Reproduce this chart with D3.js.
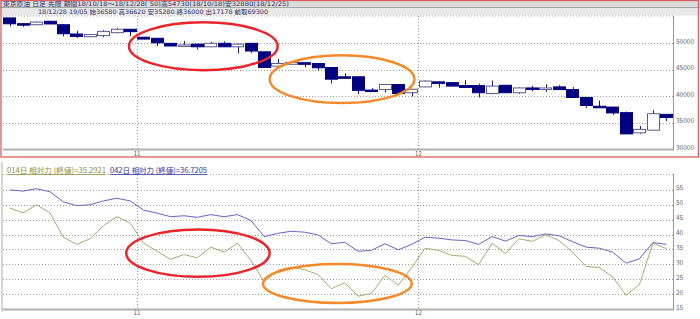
<!DOCTYPE html>
<html>
<head>
<meta charset="utf-8">
<script src="https://cdn.jsdelivr.net/npm/d3@7"></script>
<style>
  body { margin: 0; background: #fff; }
  svg { display: block; }
  text { font-family: "Noto Sans CJK JP", "DejaVu Sans", sans-serif; }
  .head { font-family: "DejaVu Sans", "Noto Sans CJK JP", sans-serif; }
</style>
</head>
<body>
<svg id="chart"></svg>
<script>
// 日付（営業日）
const dates = [
  '10/18','10/19','10/22','10/23','10/24','10/25','10/26','10/29','10/30','10/31',
  '11/01','11/02','11/05','11/06','11/07','11/08','11/09','11/12','11/13','11/14',
  '11/15','11/16','11/19','11/20','11/21','11/22','11/26','11/27','11/28','11/29',
  '11/30','12/03','12/04','12/05','12/06','12/07','12/10','12/11','12/12','12/13',
  '12/14','12/17','12/18','12/19','12/20','12/21','12/25','12/26','12/27','12/28'
];

// 四本値
const open = [
  54730,53650,53450,54100,53450,51700,51200,51400,51950,52600,
  51100,50900,49950,49550,49800,49300,49950,49300,49950,48350,
  45650,46000,46300,46150,45400,43650,43650,41150,41250,42200,
  40650,41750,42700,42550,42000,42000,40500,42050,40650,41550,
  41250,41750,41250,39750,38100,37950,36900,33100,33600,36580
];
const high = [
  54730,53700,54050,54150,53500,52300,51700,52400,52800,52650,
  51150,50950,50000,50400,49850,50250,50300,49900,50000,48400,
  47000,46450,46350,46200,45450,44300,43700,41550,42300,42250,
  41400,42950,42750,42600,43000,42350,42950,42100,41650,41950,
  42250,42050,41700,39800,39200,38000,37100,34400,37350,36620
];
const low = [
  53150,53050,53400,53550,51250,50950,51100,51100,51850,51300,
  50700,49450,49400,49500,48800,49250,49250,48050,48100,45300,
  45600,45950,45450,44850,42400,43250,40400,40850,40700,40400,
  39950,41700,41600,41850,41600,39750,40350,40600,40450,40900,
  40850,41200,39700,37750,37900,36500,32880,32950,33550,35280
];
const close = [
  53630,53550,53950,53600,51750,51250,51600,52200,52600,52150,
  50750,50050,49450,49650,49300,49950,49300,49800,48500,45400,
  46150,46350,46000,45350,43200,43400,41100,41000,42200,40500,
  41300,42850,42400,41900,41650,40650,41900,40650,41550,41300,
  41550,41250,39750,38250,37950,36850,32900,33750,36700,36000
];

// 相対力指数
const rsi14 = [
  48.9,47.3,50.0,47.3,39.1,36.7,38.6,43.0,46.0,43.8,
  37.1,34.4,31.7,33.3,32.2,35.8,34.1,37.1,31.3,24.1,
  28.0,29.1,28.2,26.6,21.8,23.8,19.3,20.2,26.3,23.0,
  28.9,35.4,34.7,33.0,32.7,29.9,37.1,33.6,38.6,37.7,
  39.9,38.0,34.1,29.3,28.9,25.8,19.6,23.3,37.1,35.29
];
const rsi42 = [
  55.0,54.6,55.4,54.4,51.0,49.7,50.0,51.3,52.2,51.3,
  48.2,47.2,46.0,46.3,45.8,46.7,46.0,46.7,44.7,39.3,
  40.4,41.1,40.8,39.9,36.9,37.4,34.4,34.7,36.9,34.9,
  36.7,39.1,38.8,38.2,38.0,36.7,39.3,37.8,39.7,39.3,
  40.2,39.6,37.6,35.8,35.4,34.1,30.4,31.9,37.3,36.72
];

const priceTicks = [30000, 35000, 40000, 45000, 50000];
const rsiTicks = [15, 20, 25, 30, 35, 40, 45, 50, 55];
const monthTicks = [{ date: '11/01', label: '11' }, { date: '12/03', label: '12' }];

const titleText = '東京原油 日足 先限 期間18/10/18～18/12/28( 50)高54730(18/10/18)安32880(18/12/25)';
const infoText = '18/12/28 19/05 始36580 高36620 安35280 終36000 出17178 前取69300';
const legend14 = '014日 相対力 (終値)=35.2921';
const legend42 = '042日 相対力 (終値)=36.7205';

// 注釈の楕円（日付インデックスと値で指定）
const topMarks = [
  { i0: 9.4, i1: 20.5, v0: 53900, v1: 44900, color: '#e8262a' },
  { i0: 19.9, i1: 30.7, v0: 47700, v1: 38700, color: '#f58a2a' }
];
const bottomMarks = [
  { i0: 9.2, i1: 19.9, v0: 41.7, v1: 25.8, color: '#e8262a' },
  { i0: 19.4, i1: 30.5, v0: 30.1, v1: 17.0, color: '#f58a2a' }
];

const W = 700, H = 319;
const left = 3, right = 673;

const svg = d3.select('#chart').attr('width', W).attr('height', H);

const x = d3.scaleBand().domain(dates).range([left, right]).paddingInner(0.06).paddingOuter(0.03);
const xi = d3.scaleLinear().domain([0, dates.length]).range([left, right]);
const slotStart = d => xi(dates.indexOf(d));

const yTop = d3.scaleLinear().domain([30000, 55000]).range([149.3, 16.5]);
const yBot = d3.scaleLinear().domain([15, 60]).range([309, 175]);

//
// ヘッダー
//
svg.append('rect').attr('x', 0).attr('y', 0).attr('width', W).attr('height', 7.5).attr('fill', '#dcdcdc');
svg.append('line').attr('x1', 0).attr('x2', W).attr('y1', 7.5).attr('y2', 7.5).attr('stroke', '#a8a8a8');
svg.append('rect').attr('x', 0).attr('y', 8).attr('width', W).attr('height', 7.5).attr('fill', '#e8e8e8');
svg.append('text').attr('class', 'head').attr('x', 3).attr('y', 6).attr('font-size', 6.2)
  .attr('textLength', 286).attr('lengthAdjust', 'spacingAndGlyphs')
  .attr('fill', '#2a2a5a').text(titleText);
svg.append('text').attr('class', 'head').attr('x', 38).attr('y', 13.9).attr('font-size', 6.2)
  .attr('textLength', 230).attr('lengthAdjust', 'spacingAndGlyphs')
  .attr('fill', '#2a2a5a').text(infoText);

//
// 上段 ローソク足
//
const upper = svg.append('g');
upper.append('rect').attr('x', left).attr('y', 16).attr('width', right - left).attr('height', 133).attr('fill', '#fff');
upper.append('line').attr('x1', left).attr('x2', right).attr('y1', 16).attr('y2', 16)
  .attr('stroke', '#aaa').attr('stroke-dasharray', '1,2');

upper.selectAll('.hgrid').data(priceTicks.slice(1)).enter().append('line')
  .attr('x1', left).attr('x2', right)
  .attr('y1', d => Math.round(yTop(d)) + 0.5).attr('y2', d => Math.round(yTop(d)) + 0.5)
  .attr('stroke', '#9a9a9a').attr('stroke-dasharray', '1,2');

upper.selectAll('.vgrid').data(monthTicks).enter().append('line')
  .attr('x1', d => Math.round(slotStart(d.date)) + 0.5).attr('x2', d => Math.round(slotStart(d.date)) + 0.5)
  .attr('y1', 16).attr('y2', 149)
  .attr('stroke', '#9a9a9a').attr('stroke-dasharray', '1,2');

upper.selectAll('.ylab').data(priceTicks).enter().append('text')
  .attr('x', 676).attr('y', d => yTop(d) + 0.5)
  .attr('font-size', 6.5).attr('fill', '#666').text(d => d);

upper.selectAll('.xlab').data(monthTicks).enter().append('text')
  .attr('x', d => slotStart(d.date)).attr('y', 155.5).attr('text-anchor', 'middle')
  .attr('font-size', 6).attr('fill', '#555').text(d => d.label);

// ひげ
upper.selectAll('.wick').data(dates).enter().append('line')
  .attr('x1', d => Math.round(x(d) + x.bandwidth() / 2) + 0.5)
  .attr('x2', d => Math.round(x(d) + x.bandwidth() / 2) + 0.5)
  .attr('y1', (d, i) => yTop(high[i])).attr('y2', (d, i) => yTop(low[i]))
  .attr('stroke', '#1a1a70').attr('stroke-width', 1);

// 実体
upper.selectAll('.body').data(dates).enter().append('rect')
  .attr('x', d => Math.round(x(d)) + 0.5)
  .attr('y', (d, i) => yTop(Math.max(open[i], close[i])))
  .attr('width', Math.round(x.bandwidth()) - 1)
  .attr('height', (d, i) => Math.max(1.5, yTop(Math.min(open[i], close[i])) - yTop(Math.max(open[i], close[i]))))
  .attr('fill', (d, i) => close[i] < open[i] ? '#000080' : '#fff')
  .attr('stroke', (d, i) => close[i] < open[i] ? '#000080' : '#5a5a90')
  .attr('stroke-width', 1);

upper.append('line').attr('x1', left).attr('x2', right + 1).attr('y1', 149.5).attr('y2', 149.5)
  .attr('stroke', '#b0b0b0').attr('stroke-width', 2);
upper.append('line').attr('x1', right + 0.5).attr('x2', right + 0.5).attr('y1', 16).attr('y2', 150)
  .attr('stroke', '#999');

upper.selectAll('.mark').data(topMarks).enter().append('ellipse')
  .attr('cx', d => (xi(d.i0) + xi(d.i1)) / 2)
  .attr('cy', d => (yTop(d.v0) + yTop(d.v1)) / 2)
  .attr('rx', d => (xi(d.i1) - xi(d.i0)) / 2)
  .attr('ry', d => (yTop(d.v1) - yTop(d.v0)) / 2)
  .attr('fill', 'none').attr('stroke', d => d.color).attr('stroke-width', 2.5);

// 上段の枠
svg.append('rect').attr('x', 1).attr('y', 0.5).attr('width', 697.5).attr('height', 156.5)
  .attr('fill', 'none').attr('stroke', '#d86060').attr('stroke-width', 1.3);

//
// 下段 相対力
//
const lower = svg.append('g');
lower.append('line').attr('x1', 2).attr('x2', 2).attr('y1', 162).attr('y2', 312).attr('stroke', '#c8c8c8').attr('stroke-width', 1.5);
lower.append('line').attr('x1', left).attr('x2', right).attr('y1', 174.5).attr('y2', 174.5)
  .attr('stroke', '#aaa').attr('stroke-dasharray', '1,2');

lower.selectAll('.hgrid').data(rsiTicks.slice(1)).enter().append('line')
  .attr('x1', left).attr('x2', right)
  .attr('y1', d => Math.round(yBot(d)) + 0.5).attr('y2', d => Math.round(yBot(d)) + 0.5)
  .attr('stroke', '#9a9a9a').attr('stroke-dasharray', '1,2');

lower.selectAll('.vgrid').data(monthTicks).enter().append('line')
  .attr('x1', d => Math.round(slotStart(d.date)) + 0.5).attr('x2', d => Math.round(slotStart(d.date)) + 0.5)
  .attr('y1', 175).attr('y2', 309)
  .attr('stroke', '#9a9a9a').attr('stroke-dasharray', '1,2');

lower.selectAll('.ylab').data(rsiTicks).enter().append('text')
  .attr('x', 676).attr('y', d => yBot(d) + 0.5)
  .attr('font-size', 6.5).attr('fill', '#666').text(d => d);

lower.selectAll('.xlab').data(monthTicks).enter().append('text')
  .attr('x', d => slotStart(d.date)).attr('y', 315).attr('text-anchor', 'middle')
  .attr('font-size', 6).attr('fill', '#555').text(d => d.label);

const cx = d => x(d) + x.bandwidth() / 2;

lower.append('path').datum(rsi42)
  .attr('d', d3.line().x((d, i) => cx(dates[i])).y(d => yBot(d)))
  .attr('fill', 'none').attr('stroke', '#6a62c8').attr('stroke-width', 1);

lower.append('path').datum(rsi14)
  .attr('d', d3.line().x((d, i) => cx(dates[i])).y(d => yBot(d)))
  .attr('fill', 'none').attr('stroke', '#a8a870').attr('stroke-width', 1);

lower.append('line').attr('x1', left).attr('x2', right + 1).attr('y1', 309.5).attr('y2', 309.5)
  .attr('stroke', '#b0b0b0').attr('stroke-width', 2);
lower.append('line').attr('x1', right + 0.5).attr('x2', right + 0.5).attr('y1', 174).attr('y2', 310)
  .attr('stroke', '#999');

// 凡例
const legends = [
  { text: legend14, x: 7, w: 99, color: '#8c8c3a' },
  { text: legend42, x: 110, w: 97, color: '#3232a0' }
];
lower.selectAll('.legbg').data(legends).enter().append('rect')
  .attr('x', d => d.x).attr('y', 166).attr('width', d => d.w).attr('height', 9).attr('fill', '#fff');
lower.selectAll('.leg').data(legends).enter().append('text')
  .attr('x', d => d.x).attr('y', 173).attr('font-size', 7.4)
  .attr('textLength', d => d.w).attr('lengthAdjust', 'spacingAndGlyphs')
  .attr('fill', d => d.color).text(d => d.text);
lower.selectAll('.legline').data(legends).enter().append('line')
  .attr('x1', d => d.x).attr('x2', d => d.x + d.w).attr('y1', 174.5).attr('y2', 174.5)
  .attr('stroke', d => d.color).attr('stroke-width', 0.8);

lower.selectAll('.mark').data(bottomMarks).enter().append('ellipse')
  .attr('cx', d => (xi(d.i0) + xi(d.i1)) / 2)
  .attr('cy', d => (yBot(d.v0) + yBot(d.v1)) / 2)
  .attr('rx', d => (xi(d.i1) - xi(d.i0)) / 2)
  .attr('ry', d => (yBot(d.v1) - yBot(d.v0)) / 2)
  .attr('fill', 'none').attr('stroke', d => d.color).attr('stroke-width', 2.5);
</script>
</body>
</html>
